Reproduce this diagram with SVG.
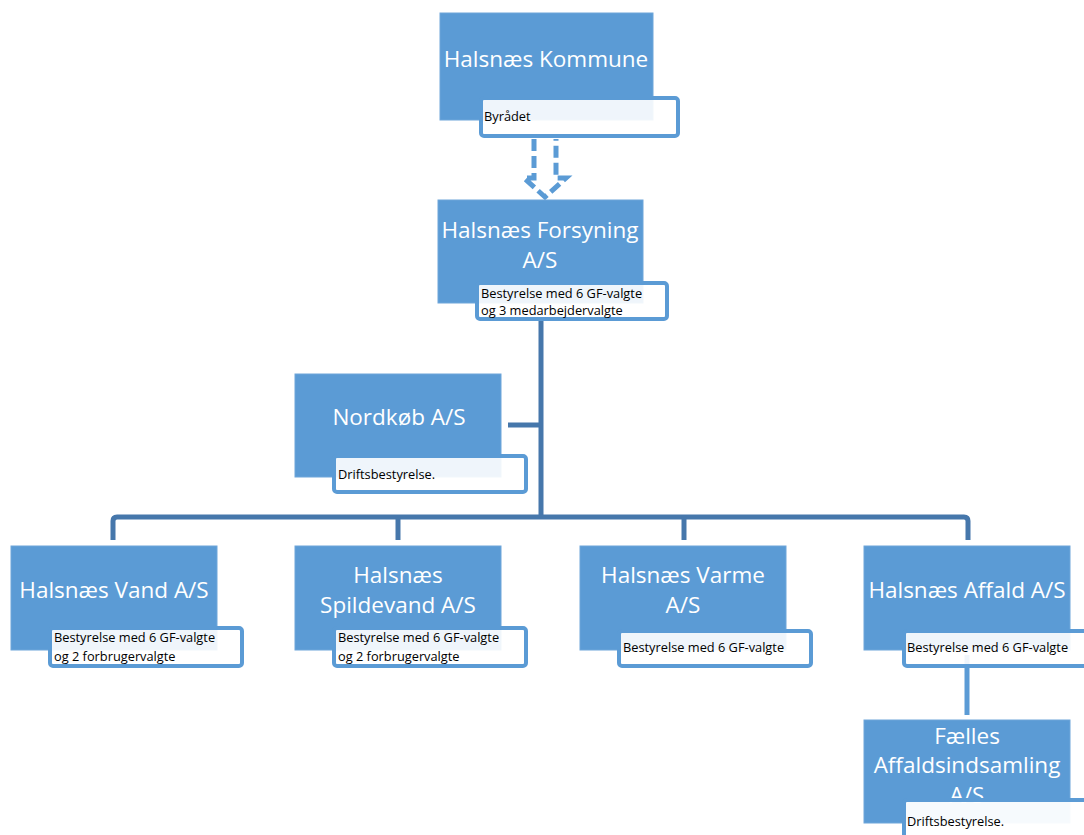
<svg xmlns="http://www.w3.org/2000/svg" width="1084" height="835" viewBox="0 0 1084 835">
<style>
.box{fill:#5b9bd5;stroke:#6fa6da;stroke-width:1}
.lbl{fill:#ffffff;fill-opacity:0.9;stroke:#5b9bd5;stroke-width:4}
.t{font-family:"Open Sans","Liberation Sans",sans-serif;font-size:22.5px;fill:#ffffff;text-anchor:middle}
.s{font-family:"Open Sans","Liberation Sans",sans-serif;font-size:12.8px;fill:#000000}
.c{fill:none;stroke:#4677ab;stroke-width:5;stroke-linejoin:round}
</style>
<rect width="1084" height="835" fill="#ffffff"/>
<g id="connectors">
<path class="c" d="M541,320 V517"/>
<path class="c" d="M508,425 H541"/>
<path class="c" d="M113,540 V521 Q113,517 117,517 H964 Q968,517 968,521 V540"/>
<path class="c" d="M398,517 V540"/>
<path class="c" d="M684,517 V540"/>
<path class="c" d="M967,655 V715" style="stroke:#5b9bd5"/>
<path d="M534,139 V178 H524 L545,197 L566,178 H556 V139" fill="none" stroke="#5b9bd5" stroke-width="5" stroke-dasharray="12,5"/>
</g>
<g id="kommune">
<rect class="box" x="440" y="13" width="213" height="107"/>
<text class="t" x="546" y="67">Halsnæs Kommune</text>
<rect class="lbl" x="481" y="98" width="197" height="38" rx="3"/>
<text class="s" x="484" y="121">Byrådet</text>
</g>
<g id="forsyning">
<rect class="box" x="438" y="200" width="205" height="103"/>
<text class="t" x="540" y="238">Halsnæs Forsyning</text>
<text class="t" x="540" y="268">A/S</text>
<rect class="lbl" x="477" y="283" width="190" height="36" rx="3"/>
<text class="s" x="481" y="298">Bestyrelse med 6 GF-valgte</text>
<text class="s" x="481" y="315">og 3 medarbejdervalgte</text>
</g>
<g id="nordkob">
<rect class="box" x="295" y="374" width="206" height="103"/>
<text class="t" x="399" y="425">Nordkøb A/S</text>
<rect class="lbl" x="334" y="456" width="192" height="36" rx="3"/>
<text class="s" x="338" y="479">Driftsbestyrelse.</text>
</g>
<g id="vand">
<rect class="box" x="11" y="546" width="206" height="104"/>
<text class="t" x="114" y="598">Halsnæs Vand A/S</text>
<rect class="lbl" x="50" y="628" width="192" height="38" rx="3"/>
<text class="s" x="54" y="642">Bestyrelse med 6 GF-valgte</text>
<text class="s" x="54" y="661">og 2 forbrugervalgte</text>
</g>
<g id="spildevand">
<rect class="box" x="295" y="546" width="206" height="104"/>
<text class="t" x="398" y="583">Halsnæs</text>
<text class="t" x="398" y="613">Spildevand A/S</text>
<rect class="lbl" x="334" y="628" width="192" height="38" rx="3"/>
<text class="s" x="338" y="642">Bestyrelse med 6 GF-valgte</text>
<text class="s" x="338" y="661">og 2 forbrugervalgte</text>
</g>
<g id="varme">
<rect class="box" x="580" y="546" width="206" height="104"/>
<text class="t" x="683" y="583">Halsnæs Varme</text>
<text class="t" x="683" y="613">A/S</text>
<rect class="lbl" x="619" y="631" width="192" height="35" rx="3"/>
<text class="s" x="623" y="652">Bestyrelse med 6 GF-valgte</text>
</g>
<g id="affald">
<rect class="box" x="864" y="546" width="206" height="104"/>
<text class="t" x="967" y="598">Halsnæs Affald A/S</text>
<rect class="lbl" x="904" y="631" width="190" height="35" rx="3"/>
<text class="s" x="907" y="652">Bestyrelse med 6 GF-valgte</text>
</g>
<g id="faelles">
<rect class="box" x="864" y="720" width="206" height="103"/>
<text class="t" x="967" y="744">Fælles</text>
<text class="t" x="967" y="773">Affaldsindsamling</text>
<text class="t" x="967" y="803">A/S</text>
<rect class="lbl" x="904" y="800" width="190" height="45" rx="3" style="fill-opacity:0.95"/>
<text class="s" x="907" y="826">Driftsbestyrelse.</text>
</g>
</svg>
